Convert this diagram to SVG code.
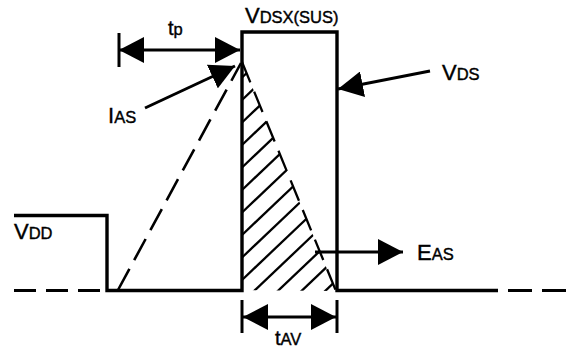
<svg xmlns="http://www.w3.org/2000/svg" width="566" height="349" viewBox="0 0 566 349">
<style>
.wave{fill:none;stroke:#000;stroke-width:3.4;stroke-linejoin:miter;stroke-linecap:butt}
.dash{fill:none;stroke:#000;stroke-width:3;stroke-dasharray:22 10}
.ias{fill:none;stroke:#000;stroke-width:2.6;stroke-dasharray:24 10}
.hyp{fill:none;stroke:#000;stroke-width:2.3;stroke-dasharray:22 10}
.hatch line{stroke:#000;stroke-width:2.3}
.arr{fill:none;stroke:#000;stroke-width:3}
.tick{stroke:#000;stroke-width:3}
text{font-family:"Liberation Sans",Arial,sans-serif;fill:#000;stroke:#000;stroke-width:0.4}
.big{font-size:22px}
.sub{font-size:16.5px}
.t{font-size:20px}
</style>
<defs>
<marker id="ah" markerUnits="userSpaceOnUse" markerWidth="25" markerHeight="26" viewBox="0 0 25 26" refX="25" refY="13" orient="auto-start-reverse">
<path d="M0,0 L25,13 L0,26 Z" fill="#000"/>
</marker>
<clipPath id="tri"><path d="M242,62 L242,290 L336,291 Z"/></clipPath>
</defs>
<g id="hatch" class="hatch" clip-path="url(#tri)">
<line x1="242" y1="77.5" x2="372" y2="-46"/>
<line x1="242" y1="100" x2="372" y2="-23.5"/>
<line x1="242" y1="122.5" x2="372" y2="-1"/>
<line x1="242" y1="145" x2="372" y2="21.5"/>
<line x1="242" y1="167.5" x2="372" y2="44"/>
<line x1="242" y1="190" x2="372" y2="66.5"/>
<line x1="242" y1="212.5" x2="372" y2="89"/>
<line x1="242" y1="235" x2="372" y2="111.5"/>
<line x1="242" y1="257.5" x2="372" y2="134"/>
<line x1="242" y1="280" x2="372" y2="156.5"/>
<line x1="242" y1="302.5" x2="372" y2="179"/>
<line x1="242" y1="325" x2="372" y2="201.5"/>
<line x1="242" y1="347.5" x2="372" y2="224"/>
<line x1="242" y1="370" x2="372" y2="246.5"/>
</g>
<g id="waveform">
<path class="wave" d="M14,215.5 H107 V290.5 H242 V32 H337 V290.5 H498"/>
<path class="dash" d="M14,290.5 H104"/>
<path class="dash" d="M508,290.5 H566" style="stroke-dasharray:24 10"/>
<path class="ias" d="M118,290 L241,63"/>
<path class="hyp" d="M242,62 L336,291"/>
</g>
<g id="connectors">
<line class="tick" x1="119" y1="33" x2="119" y2="67"/>
<line class="arr" x1="119" y1="50" x2="240" y2="50" marker-start="url(#ah)" marker-end="url(#ah)"/>
<line class="arr" x1="145" y1="108" x2="235" y2="66" marker-end="url(#ah)"/>
<line class="arr" x1="430" y1="71" x2="338" y2="89" marker-end="url(#ah)"/>
<line class="arr" x1="315" y1="252" x2="403" y2="252" marker-end="url(#ah)"/>
<line class="tick" x1="242" y1="300" x2="242" y2="333"/>
<line class="tick" x1="337" y1="300" x2="337" y2="333"/>
<line class="arr" x1="243" y1="317" x2="336" y2="317" marker-start="url(#ah)" marker-end="url(#ah)"/>
</g>
<g id="labels">
<text id="lbl-tp" x="168" y="35"><tspan class="t">t</tspan><tspan class="sub">p</tspan></text>
<text id="lbl-vdsx" x="245" y="23"><tspan class="big">V</tspan><tspan class="sub">DSX(SUS)</tspan></text>
<text id="lbl-vds" x="442" y="80"><tspan class="big">V</tspan><tspan class="sub">DS</tspan></text>
<text id="lbl-ias" x="108" y="123"><tspan class="big">I</tspan><tspan class="sub">AS</tspan></text>
<text id="lbl-vdd" x="14" y="239"><tspan class="big">V</tspan><tspan class="sub">DD</tspan></text>
<text id="lbl-eas" x="417" y="260"><tspan class="big">E</tspan><tspan class="sub">AS</tspan></text>
<text id="lbl-tav" x="275" y="345"><tspan class="t">t</tspan><tspan class="sub">AV</tspan></text>
</g>
</svg>
